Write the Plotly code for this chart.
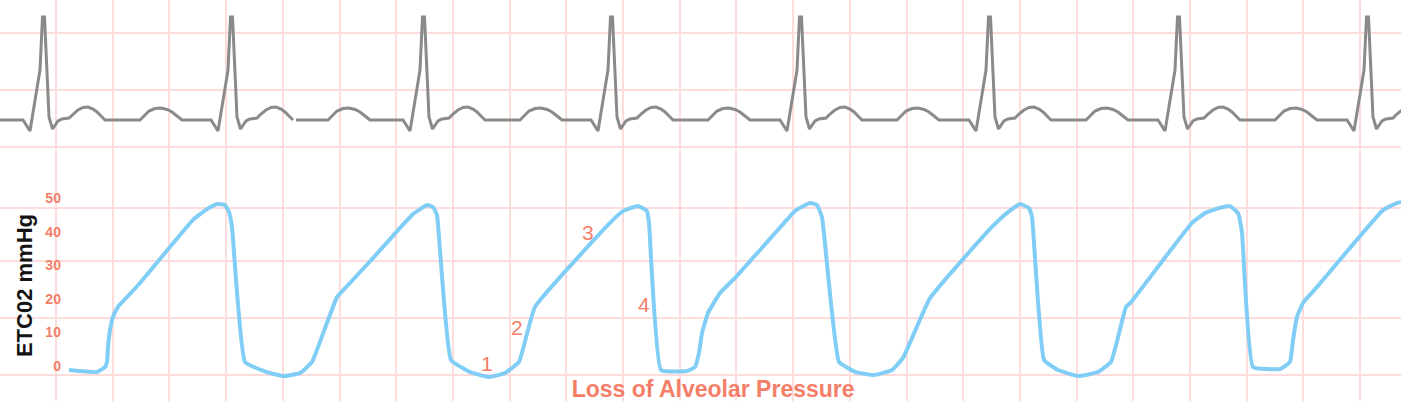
import plotly.graph_objects as go

# capnogram, time in screen units, CO2 in mmHg
capnoTime = [69, 97, 105, 107, 108, 110, 113, 118, 127, 140, 193, 207, 217, 225, 229, 232,
             245, 267, 283, 300, 312, 337, 350, 373, 400, 413, 427, 433, 437, 440,
             451, 470, 489, 505, 519, 535, 610, 623, 638, 647, 649,
             661, 687, 695, 699, 702, 708, 720, 736, 785, 796, 810, 817, 822,
             839, 856, 874, 892, 903, 930, 991, 1008, 1020, 1029, 1032,
             1044, 1058, 1078, 1098, 1111, 1126, 1131, 1192, 1205, 1219, 1230, 1238, 1242,
             1253, 1280, 1290, 1293, 1297, 1303, 1317, 1383, 1397, 1403]
capnoMmHg = [-1.2, -1.8, -0.3, 1.2, 5.7, 10.7, 14.6, 17.6, 20.5, 24.7, 43.5, 46.7, 48.2, 47.9, 45.8, 41.4,
             1.2, -1.8, -3.0, -2.1, 1.2, 20.5, 24.7, 32.1, 41.1, 45.2, 47.9, 47.3, 44.9, 34.5,
             1.8, -1.8, -3.3, -2.1, 1.2, 17.6, 42.6, 46.1, 47.6, 46.1, 42.6,
             -1.2, -1.5, -0.3, 3.9, 9.8, 15.8, 21.7, 26.5, 42.9, 46.4, 48.5, 47.9, 44.3,
             1.2, -1.8, -2.7, -1.2, 2.4, 20.2, 41.1, 45.8, 48.2, 47.0, 44.3,
             1.8, -1.2, -3.0, -1.8, 1.2, 17.6, 19.0, 42.6, 45.5, 47.0, 47.6, 45.5, 39.6,
             -0.3, -0.9, 1.2, 7.7, 14.6, 18.8, 23.5, 46.4, 48.5, 48.8]

# ECG: R peak times and one beat shape (offset from R, mV)
ecgPeakTimes = [43, 231, 423, 611, 800, 989, 1178, 1367]
beatOffsets = [-20, -13, -3, -0.5, 1.5, 6, 9.5, 15, 19, 26,
               30, 35, 40, 45, 50, 54, 58, 62,
               97, 101, 106, 112, 118, 124, 129, 134, 139]
beatMv = [0, -0.11, 0.5, 1.03, 1.03, 0.03, -0.09, -0.01, 0.01, 0.02,
          0.06, 0.10, 0.125, 0.13, 0.11, 0.08, 0.04, 0,
          0, 0.04, 0.09, 0.115, 0.12, 0.105, 0.08, 0.04, 0]
ecgGap = (293, 296)

phaseLabels = ['1', '2', '3', '4']
phaseTime = [487, 517, 588, 644]
phaseMmHg = [0.6, 11.6, 39.6, 18.2]

co2Ticks = [0, 10, 20, 30, 40, 50]

SALMON = '#f47e68'
GRID = '#fddcdc'


def buildEcg():
    xs, ys = [0], [0]
    for r in ecgPeakTimes:
        for off, mv in zip(beatOffsets, beatMv):
            xs.append(r + off)
            ys.append(mv)
    # the strip has a small break after the second beat
    i = next(k for k, t in enumerate(xs) if t > ecgGap[0])
    xs[i:i] = [None, ecgGap[1]]
    ys[i:i] = [None, 0]
    return xs, ys


ecgX, ecgY = buildEcg()

fig = go.Figure()
fig.add_trace(go.Scatter(x=capnoTime, y=capnoMmHg, mode='lines',
                         line=dict(color='#80cdf6', width=4, shape='spline', smoothing=0.35)))
fig.add_trace(go.Scatter(x=ecgX, y=ecgY, mode='lines', yaxis='y2',
                         line=dict(color='#8a8a8a', width=3), connectgaps=False))

for lbl, t, v in zip(phaseLabels, phaseTime, phaseMmHg):
    fig.add_annotation(x=t, y=v, xref='x', yref='y', text=lbl, showarrow=False,
                       font=dict(family='Liberation Sans', size=21, color=SALMON))

fig.add_annotation(x=0.0171, y=0.289, xref='paper', yref='paper', text='<b>ETC02 mmHg</b>',
                   xanchor='center', yanchor='middle', textangle=-90, showarrow=False,
                   font=dict(family='Liberation Sans, Arial', size=22, color='#141414'))

fig.update_layout(
    width=1401, height=401,
    margin=dict(l=0, r=0, t=0, b=0),
    paper_bgcolor='white', plot_bgcolor='white',
    showlegend=False,
    title=dict(text='<b>Loss of Alveolar Pressure</b>', x=0.509, xanchor='center',
               y=0.03, yanchor='middle', yref='container',
               font=dict(family='Liberation Sans, Arial', size=23, color=SALMON)),
    xaxis=dict(range=[0, 1401], showticklabels=False, ticks='', zeroline=False,
               showgrid=True, gridcolor=GRID, gridwidth=2, tick0=56, dtick=56.7),
    yaxis=dict(anchor='free', position=0.0435, range=[-10.42, 108.93],
               tickvals=co2Ticks, showgrid=False, zeroline=False, showline=False,
               ticks='', tickfont=dict(family='Liberation Sans', size=14,
                                       color=SALMON, weight='bold')),
    # ECG axis also carries the horizontal lines of the paper grid
    yaxis2=dict(overlaying='y', range=[-2.81, 1.20], showticklabels=False, ticks='',
                showline=False, zeroline=False, showgrid=True, gridcolor=GRID, gridwidth=2,
                tickvals=[0.87, 0.30, -0.27, -0.88, -1.41, -1.98, -2.55]),
)

fig.write_html("out.html", config={'displayModeBar': False},
               post_script="document.body.style.margin='0px';")
